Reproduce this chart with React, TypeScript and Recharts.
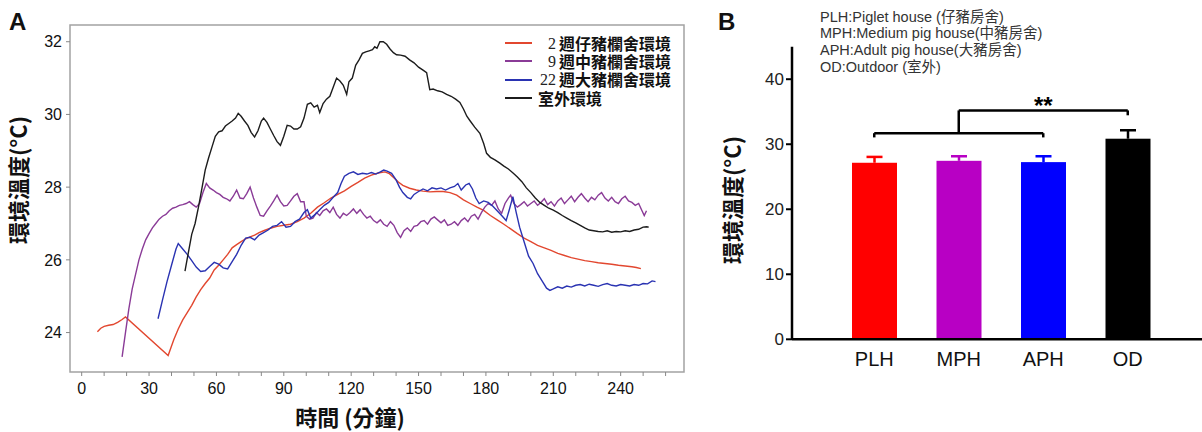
import React from "react"
import {
  Bar,
  BarChart,
  Line,
  LineChart,
  ReferenceArea,
  ReferenceLine,
  XAxis,
  YAxis,
} from "recharts"

// Panel A: temperature over time (minutes, °C)
const PIGLET_HOUSE: [number, number][] = [
  [7, 24.02], [8.5, 24.12], [10, 24.17], [12, 24.2], [14, 24.22], [16, 24.28], [18, 24.36], [19.5, 24.43],
  [38.5, 23.37], [41, 23.8], [43, 24.1], [45, 24.35], [47, 24.55], [49, 24.75], [51, 24.98], [53, 25.18],
  [55, 25.35], [57, 25.5], [59, 25.72], [61, 25.85], [63, 26.0], [65, 26.15], [67, 26.33], [69, 26.42],
  [71, 26.5], [73, 26.58], [75, 26.63], [77, 26.68], [79, 26.75], [81, 26.8], [84, 26.87], [87, 26.92],
  [90, 26.95], [93, 26.98], [96, 27.05], [99, 27.15], [102, 27.28], [105, 27.45], [108, 27.57], [111, 27.7],
  [114, 27.8], [117, 27.9], [120, 28.02], [123, 28.13], [126, 28.25], [129, 28.33], [132, 28.39], [135, 28.42],
  [137, 28.37], [139, 28.26], [141, 28.14], [143, 28.05], [146, 27.97], [149, 27.92], [152, 27.89], [155, 27.87],
  [158, 27.88], [161, 27.88], [164, 27.85], [167, 27.78], [170, 27.65], [173, 27.55], [176, 27.45], [179, 27.36],
  [182, 27.22], [185, 27.1], [188, 26.98], [191, 26.85], [194, 26.72], [197, 26.6], [200, 26.5], [203, 26.4],
  [206, 26.33], [209, 26.26], [212, 26.18], [215, 26.12], [218, 26.06], [221, 26.02], [224, 25.98], [227, 25.95],
  [230, 25.92], [233, 25.9], [236, 25.88], [239, 25.85], [242, 25.83], [245, 25.81], [247, 25.79], [249, 25.76],
]

const MEDIUM_HOUSE: [number, number][] = [
  [18, 23.33], [19.5, 24.0], [21, 24.65], [22.5, 25.2], [24, 25.6], [25.5, 26.0], [27, 26.3], [28.5, 26.55],
  [30, 26.72], [31.5, 26.88], [33, 27.0], [34.5, 27.12], [36, 27.2], [37.5, 27.25], [39, 27.35], [40.5, 27.42],
  [42, 27.45], [43.5, 27.5], [45, 27.52], [46.5, 27.55], [48, 27.6], [49.5, 27.52], [51, 27.45], [52.5, 27.55],
  [54, 27.85], [55.5, 28.1], [57, 27.98], [58.5, 27.92], [60, 27.85], [61.5, 27.8], [63, 27.72], [64.5, 27.68],
  [66, 27.62], [67.5, 27.75], [69, 27.92], [70.5, 27.7], [72, 27.68], [73.5, 27.82], [75, 28.0], [76.5, 27.7],
  [78, 27.45], [79.5, 27.22], [81, 27.2], [82.5, 27.35], [84, 27.48], [85.5, 27.62], [87, 27.78], [88.5, 27.6],
  [90, 27.48], [91.5, 27.5], [93, 27.62], [94.5, 27.75], [96, 27.82], [97.5, 27.6], [99, 27.6], [100, 27.2],
  [101.5, 27.12], [103, 27.15], [104.5, 27.3], [106, 27.22], [107.5, 27.35], [109, 27.4], [110.5, 27.3], [112, 27.45],
  [113.5, 27.25], [115, 27.15], [116.5, 27.28], [118, 27.22], [119.5, 27.3], [121, 27.4], [122.5, 27.28], [124, 27.38],
  [125.5, 27.25], [127, 27.15], [128.5, 27.2], [130, 27.08], [131.5, 27.02], [133, 27.1], [134.5, 26.98], [136, 26.92],
  [137.5, 27.05], [139, 26.95], [140.5, 26.75], [142, 26.62], [143.5, 26.8], [145, 26.88], [146.5, 26.78], [148, 26.92],
  [149.5, 26.95], [151, 27.05], [152.5, 27.08], [154, 26.98], [155.5, 27.12], [157, 27.18], [158.5, 27.1], [160, 27.02],
  [161.5, 27.1], [163, 26.95], [164.5, 26.98], [166, 27.05], [167.5, 26.95], [169, 27.08], [170.5, 27.15], [172, 27.05],
  [173.5, 27.2], [175, 27.25], [176.5, 27.12], [178, 27.3], [179.5, 27.45], [181, 27.55], [182.5, 27.5], [184, 27.62],
  [185.5, 27.4], [187, 27.28], [188.5, 27.55], [190, 27.7], [191, 27.78], [192.5, 27.55], [194, 27.45], [195.5, 27.52],
  [197, 27.6], [198.5, 27.48], [200, 27.55], [201.5, 27.62], [203, 27.5], [204.5, 27.58], [206, 27.68], [207.5, 27.52],
  [209, 27.6], [210.5, 27.48], [212, 27.62], [213.5, 27.7], [215, 27.55], [216.5, 27.65], [218, 27.75], [219.5, 27.6],
  [221, 27.72], [222.5, 27.82], [224, 27.7], [225.5, 27.6], [227, 27.72], [228.5, 27.65], [230, 27.78], [231.5, 27.85],
  [233, 27.7], [234.5, 27.62], [236, 27.72], [237.5, 27.6], [239, 27.55], [240.5, 27.68], [242, 27.75], [243.5, 27.62],
  [245, 27.58], [246.5, 27.5], [248, 27.55], [249.5, 27.35], [250.5, 27.22], [251.5, 27.35],
]

const ADULT_HOUSE: [number, number][] = [
  [34, 24.38], [36, 24.9], [38, 25.4], [40, 25.85], [42, 26.3], [43, 26.45], [45, 26.3], [47, 26.15],
  [49, 25.98], [51, 25.8], [53, 25.68], [55, 25.7], [57, 25.82], [59, 25.93], [61, 25.88], [63, 25.78],
  [65, 25.75], [67, 25.95], [69, 26.15], [71, 26.4], [73, 26.6], [75, 26.62], [77, 26.55], [79, 26.68],
  [81, 26.75], [83, 26.82], [85, 26.92], [87, 26.95], [89, 27.05], [91, 26.9], [93, 26.92], [95, 27.05],
  [97, 27.12], [99, 27.3], [100.5, 27.38], [102, 27.15], [104, 27.25], [106, 27.38], [108, 27.5], [110, 27.58],
  [112, 27.72], [114, 27.85], [115.5, 28.1], [117, 28.3], [119, 28.38], [121, 28.42], [123, 28.35], [125, 28.38],
  [127, 28.36], [129, 28.4], [131, 28.36], [133, 28.42], [134.5, 28.47], [136, 28.44], [138, 28.38], [140, 28.2],
  [141.5, 28.0], [143, 27.85], [145, 27.72], [146.5, 27.68], [148, 27.8], [150, 27.88], [152, 27.95], [154, 27.9],
  [156, 27.98], [158, 27.95], [160, 27.98], [162, 27.92], [164, 27.98], [166, 28.02], [167.5, 28.1], [169, 27.92],
  [171, 28.06], [172.5, 28.1], [174, 27.95], [175.5, 27.7], [177, 27.55], [179, 27.62], [181, 27.58], [183, 27.48],
  [185, 27.35], [187, 27.22], [189, 27.08], [190.5, 27.4], [192, 27.74], [193.5, 27.3], [195, 26.9], [197, 26.5],
  [199, 26.1], [201, 25.9], [203, 25.62], [205, 25.42], [207, 25.22], [208.5, 25.16], [210, 25.2], [212, 25.26],
  [214, 25.22], [216, 25.28], [218, 25.25], [220, 25.3], [222, 25.32], [224, 25.28], [226, 25.33], [228, 25.3],
  [230, 25.27], [232, 25.32], [234, 25.35], [236, 25.3], [238, 25.28], [240, 25.32], [242, 25.3], [244, 25.28],
  [246, 25.32], [248, 25.3], [250, 25.35], [252, 25.34], [254, 25.42], [255.5, 25.4],
]

const OUTDOOR: [number, number][] = [
  [46, 25.69], [47.5, 26.2], [49, 26.7], [50.5, 27.0], [52, 27.45], [53.5, 27.95], [55, 28.47], [56.5, 28.8],
  [58, 29.1], [59.5, 29.4], [61, 29.52], [62.5, 29.55], [64, 29.68], [65.5, 29.75], [67, 29.82], [68.5, 29.9],
  [69.7, 30.03], [71, 29.95], [72.5, 29.82], [74, 29.7], [75.5, 29.5], [77, 29.38], [78.5, 29.55], [80, 29.82],
  [81, 29.9], [82.5, 29.78], [84, 29.6], [85.5, 29.42], [87, 29.25], [88.5, 29.15], [90, 29.4], [91.5, 29.7],
  [93, 29.68], [94.5, 29.6], [96, 29.6], [97.5, 29.66], [99, 29.9], [100.5, 30.28], [102, 30.32], [103.5, 30.2],
  [105, 30.25], [106, 30.05], [107.5, 30.3], [109, 30.42], [110.5, 30.5], [112, 30.75], [113.5, 31.0], [115, 30.92],
  [116.5, 30.8], [118, 30.55], [119, 30.9], [120.5, 31.0], [122, 31.35], [123.5, 31.5], [125, 31.68], [126.5, 31.72],
  [128, 31.75], [129.5, 31.78], [130.5, 31.86], [131.5, 31.82], [132.8, 32.0], [134.3, 32.0], [135.8, 31.93], [137.3, 31.8],
  [138.8, 31.7], [140.2, 31.64], [142, 31.63], [144, 31.6], [146, 31.5], [148, 31.42], [150, 31.3], [152, 31.22],
  [153.6, 31.15], [155, 30.68], [156.5, 30.7], [158.5, 30.65], [160.5, 30.62], [162.5, 30.55], [164.5, 30.5], [166.5, 30.42],
  [168.4, 30.33], [170, 30.15], [171.5, 29.95], [173, 29.82], [175, 29.65], [177.3, 29.48], [179, 29.2], [180.3, 28.93],
  [182, 28.82], [184, 28.75], [186.2, 28.66], [188, 28.58], [190, 28.5], [192.2, 28.38], [194, 28.28], [196, 28.15],
  [198, 27.98], [200, 27.85], [202, 27.7], [204, 27.58], [206, 27.5], [208, 27.42], [210, 27.37], [212, 27.3],
  [214, 27.22], [216, 27.15], [218, 27.08], [220, 27.02], [222, 26.95], [224, 26.88], [226, 26.82], [228, 26.8],
  [230, 26.78], [232, 26.77], [234, 26.8], [236, 26.76], [238, 26.78], [240, 26.77], [242, 26.8], [244, 26.78],
  [246, 26.82], [248, 26.84], [250, 26.9], [251.6, 26.91], [252.5, 26.9],
]

const SERIES_NUM = ["2", "9", "22", ""]
const SERIES_TEXT = ["週仔豬欄舍環境", "週中豬欄舍環境", "週大豬欄舍環境", "室外環境"]
const X_TICKS_A = [0, 10, 20, 30, 40, 50, 60, 70, 80, 90, 100, 110, 120, 130, 140, 150, 160, 170, 180, 190, 200, 210, 220, 230, 240, 250, 260]
const Y_TICKS_A = [24, 26, 28, 30, 32]

// Panel B: mean temperature per site with upper SEM
const SITES = ["PLH", "MPH", "APH", "OD"]
const SITE_MEANS = [27.15, 27.45, 27.25, 30.85]
const SITE_ERRS = [0.9, 0.7, 0.9, 1.3]
const Y_TICKS_B = [0, 10, 20, 30, 40]
const ABBREVIATIONS = [
  "PLH:Piglet house (仔豬房舍)",
  "MPH:Medium pig house(中豬房舍)",
  "APH:Adult pig house(大豬房舍)",
  "OD:Outdoor (室外)",
]

const LINE_COLORS = ["#e2472f", "#8a3b97", "#2a33b2", "#1c1c1c"]
const BAR_COLORS = ["#ff0000", "#b800c4", "#0000ff", "#000000"]
const SANS = "'Liberation Sans', Arial, 'Noto Sans CJK TC', sans-serif"
const CJK = "'Noto Sans CJK TC', 'Liberation Sans', sans-serif"

const toPoints = (rows: [number, number][]) => rows.map(([t, v]) => ({ t, v }))
const lineSeries = [PIGLET_HOUSE, MEDIUM_HOUSE, ADULT_HOUSE, OUTDOOR].map(toPoints)
const barRows = SITES.map((name, i) => ({ name, value: SITE_MEANS[i], err: SITE_ERRS[i] }))

function LegendBox() {
  return (
    <div style={{ position: "absolute", left: 505, top: 34, fontFamily: CJK }}>
      {SERIES_TEXT.map((txt, i) => (
        <div key={i} style={{ display: "flex", alignItems: "center", height: 18.3, overflow: "visible" }}>
          <svg width={27} height={4} style={{ marginRight: 6 }}>
            <line x1={0} x2={27} y1={2} y2={2} stroke={LINE_COLORS[i]} strokeWidth={2} />
          </svg>
          {SERIES_NUM[i] ? (
            <span
              style={{
                display: "inline-block",
                width: 18,
                height: 17,
                lineHeight: "17px",
                textAlign: "right",
                marginRight: 3,
                fontFamily: "'Liberation Serif', 'DejaVu Serif', serif",
                fontSize: 16,
                color: "#222",
              }}
            >
              {SERIES_NUM[i]}
            </span>
          ) : null}
          <span
            style={{
              display: "inline-block",
              height: 17,
              lineHeight: "17px",
              fontSize: 16,
              fontWeight: 700,
              color: "#111",
              whiteSpace: "nowrap",
            }}
          >
            {txt}
          </span>
        </div>
      ))}
    </div>
  )
}

function BarWithError(props: any) {
  const { x, y, width, height, index, payload } = props
  const color = BAR_COLORS[index % BAR_COLORS.length]
  const pxPerUnit = height / payload.value
  const top = y - payload.err * pxPerUnit
  const cx = x + width / 2
  return (
    <g>
      <rect x={x} y={y} width={width} height={height} fill={color} />
      <line x1={cx} x2={cx} y1={y} y2={top} stroke={color} strokeWidth={2.5} />
      <line x1={cx - 8} x2={cx + 8} y1={top} y2={top} stroke={color} strokeWidth={2.5} />
    </g>
  )
}

function TimeCourse() {
  return (
    <LineChart width={700} height={432} margin={{ top: 25, right: 16, bottom: 0, left: 10 }}>
      <XAxis
        type="number"
        dataKey="t"
        domain={[-5.2, 268.2]}
        ticks={X_TICKS_A}
        interval={0}
        tickFormatter={(v) => (Number(v) % 30 === 0 ? String(v) : "")}
        height={60}
        axisLine={false}
        tickLine={{ stroke: "#888" }}
        tickSize={4}
        tickMargin={7}
        tick={{ fontSize: 16, fill: "#111" }}
      />
      <YAxis
        type="number"
        domain={[22.915, 32.46]}
        ticks={Y_TICKS_A}
        width={60}
        axisLine={false}
        tickLine={{ stroke: "#888" }}
        tickSize={4}
        tickMargin={4}
        tick={{ fontSize: 16, fill: "#111" }}
      />
      <ReferenceArea
        x1={-5.2}
        x2={268.2}
        y1={22.915}
        y2={32.46}
        fill="none"
        stroke="#a3a3a3"
        strokeWidth={1.5}
        ifOverflow="visible"
      />
      {lineSeries.map((pts, i) => (
        <Line
          key={i}
          data={pts}
          dataKey="v"
          name={SERIES_TEXT[i]}
          stroke={LINE_COLORS[i]}
          strokeWidth={1.4}
          dot={false}
          type="linear"
          isAnimationActive={false}
        />
      ))}
    </LineChart>
  )
}

function SiteBars() {
  return (
    <BarChart
      width={502}
      height={432}
      data={barRows}
      margin={{ top: 46.7, right: 0, bottom: 0, left: 32 }}
      barSize={45}
    >
      <XAxis
        dataKey="name"
        height={92.7}
        padding={{ left: 40, right: 32 }}
        axisLine={{ stroke: "#000", strokeWidth: 2.5 }}
        tickLine={false}
        tickSize={0}
        tickMargin={12}
        tick={{ fontSize: 20, fill: "#111" }}
      />
      <YAxis
        type="number"
        domain={[0, 45]}
        ticks={Y_TICKS_B}
        width={60}
        axisLine={{ stroke: "#000", strokeWidth: 2.5 }}
        tickLine={{ stroke: "#000", strokeWidth: 2 }}
        tickSize={6}
        tickMargin={2}
        tick={{ fontSize: 17, fill: "#222" }}
      />
      <Bar dataKey="value" shape={BarWithError} isAnimationActive={false} />
      <ReferenceLine segment={[{ x: "PLH", y: 31.7 }, { x: "APH", y: 31.7 }]} stroke="#000" strokeWidth={2.5} ifOverflow="visible" />
      <ReferenceLine segment={[{ x: "PLH", y: 31.7 }, { x: "PLH", y: 31.05 }]} stroke="#000" strokeWidth={2.5} ifOverflow="visible" />
      <ReferenceLine segment={[{ x: "APH", y: 31.7 }, { x: "APH", y: 31.05 }]} stroke="#000" strokeWidth={2.5} ifOverflow="visible" />
      <ReferenceLine segment={[{ x: "MPH", y: 31.7 }, { x: "MPH", y: 35.2 }]} stroke="#000" strokeWidth={2.5} ifOverflow="visible" />
      <ReferenceLine
        segment={[{ x: "MPH", y: 35.2 }, { x: "OD", y: 35.2 }]}
        stroke="#000"
        strokeWidth={2.5}
        ifOverflow="visible"
        label={{ value: "**", position: "top", offset: -4, fontSize: 24, fontWeight: "bold", fill: "#000" }}
      />
      <ReferenceLine segment={[{ x: "OD", y: 35.2 }, { x: "OD", y: 34.45 }]} stroke="#000" strokeWidth={2.5} ifOverflow="visible" />
    </BarChart>
  )
}

export default function App() {
  const title: React.CSSProperties = {
    position: "absolute",
    fontFamily: CJK,
    fontWeight: 700,
    fontSize: 22,
    color: "#111",
    whiteSpace: "nowrap",
    lineHeight: 1,
  }
  return (
    <div
      style={{
        position: "absolute",
        left: 0,
        top: 0,
        width: 1202,
        height: 432,
        background: "#fff",
        fontFamily: SANS,
        overflow: "hidden",
      }}
    >
      <div style={{ position: "absolute", left: 0, top: 0 }}>
        <TimeCourse />
      </div>
      <div style={{ position: "absolute", left: 700, top: 0 }}>
        <SiteBars />
      </div>
      <LegendBox />

      <div style={{ ...title, left: 9, top: 10, fontFamily: SANS, fontSize: 24 }}>A</div>
      <div style={{ ...title, left: 718, top: 10, fontFamily: SANS, fontSize: 24 }}>B</div>

      <div style={{ ...title, left: 17, top: 180, transform: "translate(-50%, -50%) rotate(-90deg)" }}>環境溫度(°C)</div>
      <div style={{ ...title, left: 350, top: 416, transform: "translate(-50%, -50%)" }}>時間 (分鐘)</div>
      <div style={{ ...title, left: 731, top: 200, transform: "translate(-50%, -50%) rotate(-90deg)" }}>環境溫度(°C)</div>

      <div
        style={{
          position: "absolute",
          left: 820,
          top: 8.6,
          fontSize: 14.5,
          lineHeight: "16.7px",
          color: "#333",
          whiteSpace: "nowrap",
        }}
      >
        {ABBREVIATIONS.map((s) => (
          <div key={s}>{s}</div>
        ))}
      </div>
    </div>
  )
}
